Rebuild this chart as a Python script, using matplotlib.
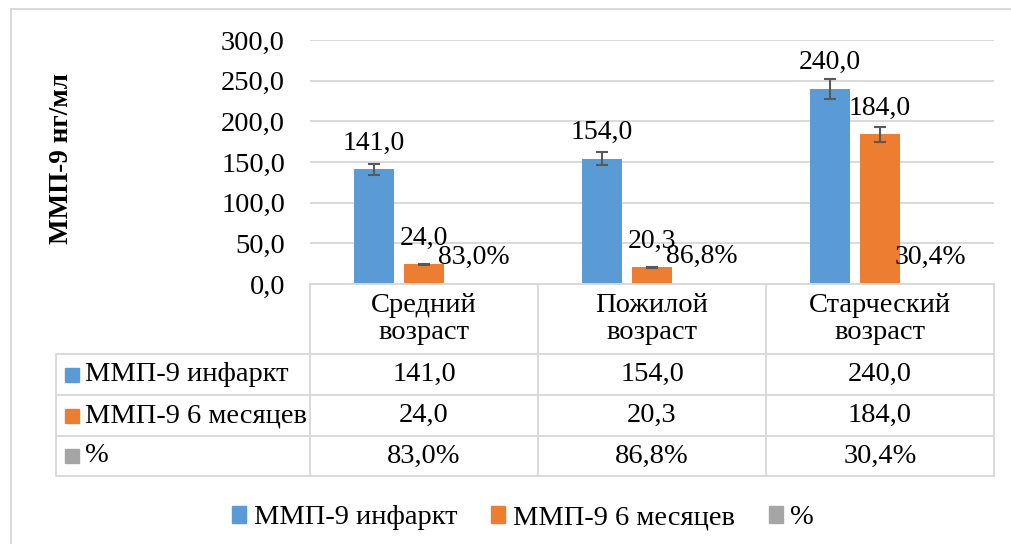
import matplotlib
matplotlib.use("Agg")
import matplotlib.pyplot as plt
from matplotlib.patches import Rectangle
from matplotlib.lines import Line2D

plt.rcParams['font.family'] = ['Liberation Serif', 'DejaVu Serif']

categories = ["Средний\nвозраст", "Пожилой\nвозраст", "Старческий\nвозраст"]
series_names = ["ММП-9 инфаркт", "ММП-9 6 месяцев", "%"]
mmp_infarct = [141.0, 154.0, 240.0]
mmp_6m = [24.0, 20.3, 184.0]
percent = [0.830, 0.868, 0.304]
err_infarct = [7.0, 8.0, 12.0]
err_6m = [1.0, 1.0, 9.5]
yticks = [0, 50, 100, 150, 200, 250, 300]

colors = ["#5B9BD5", "#ED7D31", "#A5A5A5"]
grid_c = "#D9D9D9"
FS = 20.5

W, H = 1011, 544
fig = plt.figure(figsize=(W / 100, H / 100), dpi=100)

def fx(px):
    return px / W

def fy(py):
    return 1 - py / H

ax_l, ax_r, ax_t, ax_b = 310, 994, 40, 284
ax = fig.add_axes([fx(ax_l), fy(ax_b), fx(ax_r - ax_l), (ax_b - ax_t) / H])
n = len(categories)
ax.set_xlim(-0.5, n - 0.5)
ax.set_ylim(0, 300)
ax.set_yticks(yticks)
ax.set_yticklabels([f"{v:.1f}".replace('.', ',') for v in yticks], fontsize=FS)
ax.tick_params(axis='y', length=0, pad=18)
ax.set_xticks([])
for s in ax.spines.values():
    s.set_visible(False)
ax.grid(axis='y', color=grid_c, lw=1.4)
ax.set_axisbelow(True)

cat_px = (ax_r - ax_l) / n
bw = 40 / cat_px
pitch = 50 / cat_px
xs = list(range(n))
all_vals = [mmp_infarct, mmp_6m, percent]
errs = [err_infarct, err_6m, None]
for i, (vals, c) in enumerate(zip(all_vals, colors)):
    pos = [x + (i - 1) * pitch for x in xs]
    ax.bar(pos, vals, width=bw, color=c, zorder=2)
    if errs[i] is not None:
        ax.errorbar(pos, vals, yerr=errs[i], fmt='none', ecolor='#595959',
                    elinewidth=1.5, capsize=4.5, capthick=1.5, zorder=3)
    for p, v in zip(pos, vals):
        if i == 2:
            txt = f"{v*100:.1f}%".replace('.', ',')
        else:
            txt = f"{v:.1f}".replace('.', ',')
        ax.annotate(txt, (p, v), xytext=(0, 10), textcoords='offset points',
                    ha='center', va='bottom', fontsize=20, zorder=4,
                    annotation_clip=False)

# y-axis title
fig.text(fx(61), fy(158), "ММП-9 нг/мл", rotation=90, ha='center', va='center',
         fontsize=19.5, fontweight='bold')

# data table
lw = 1.4
col_x = [ax_l + cat_px * k for k in range(n + 1)]
row_y = [ax_b, 354, 395, 436, 476]
left_tab = 56
def hline(y, x0, x1):
    fig.add_artist(Line2D([fx(x0), fx(x1)], [fy(y), fy(y)], color=grid_c, lw=lw))
def vline(x, y0, y1):
    fig.add_artist(Line2D([fx(x), fx(x)], [fy(y0), fy(y1)], color=grid_c, lw=lw))

hline(row_y[0], ax_l, ax_r)
for y in row_y[1:]:
    hline(y, left_tab, ax_r)
for x in col_x:
    vline(x, row_y[0], row_y[-1])
vline(left_tab, row_y[1], row_y[-1])

for k, cat in enumerate(categories):
    cx = (col_x[k] + col_x[k + 1]) / 2
    fig.text(fx(cx), fy((row_y[0] + row_y[1]) / 2), cat, ha='center', va='center',
             fontsize=FS, linespacing=1.15)

for r, (name, vals, c) in enumerate(zip(series_names, all_vals, colors)):
    cy = (row_y[r + 1] + row_y[r + 2]) / 2
    fig.add_artist(Rectangle((fx(65), fy(cy + 7)), fx(14), 14 / H, color=c,
                             transform=fig.transFigure))
    fig.text(fx(85), fy(cy), name, ha='left', va='center', fontsize=FS)
    for k, v in enumerate(vals):
        cx = (col_x[k] + col_x[k + 1]) / 2
        if r == 2:
            txt = f"{v*100:.1f}%".replace('.', ',')
        else:
            txt = f"{v:.1f}".replace('.', ',')
        fig.text(fx(cx), fy(cy), txt, ha='center', va='center', fontsize=FS)

# legend
handles = [Rectangle((0, 0), 1, 1, color=c) for c in colors]
leg = fig.legend(handles, series_names, loc='center', bbox_to_anchor=(fx(523), fy(518)),
                 ncol=3, frameon=False, fontsize=FS, handlelength=0.5, handleheight=0.5,
                 handletextpad=0.25, columnspacing=1.2)

# outer chart border
fig.add_artist(Line2D([fx(11), fx(11)], [fy(9), 0], color=grid_c, lw=1.4))
fig.add_artist(Line2D([fx(11), 1], [fy(9), fy(9)], color=grid_c, lw=1.4))

fig.savefig("out.png", dpi=100)
